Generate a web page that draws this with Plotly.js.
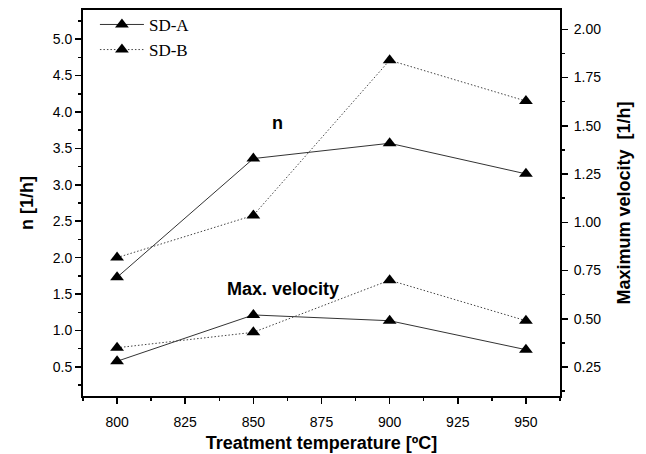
<!DOCTYPE html>
<html>
<head>
<meta charset="utf-8">
<script src="https://cdn.plot.ly/plotly-3.0.1.min.js"></script>
<style>
  html, body { margin: 0; padding: 0; background: #fff; }
  #chart { width: 646px; height: 454px; }
</style>
</head>
<body>
<div id="chart"></div>
<script>
// Treatment temperatures (°C)
const temperatures = [800, 850, 900, 950];

// n [1/h] (left axis)
const nSDA = [1.73, 3.36, 3.57, 3.15];
const nSDB = [2.00, 2.58, 4.71, 4.15];

// Maximum velocity [1/h] (right axis)
const velSDA = [0.28, 0.52, 0.49, 0.34];
const velSDB = [0.35, 0.43, 0.70, 0.49];

const seriesNames = ['SD-A', 'SD-B'];

const sans = 'Liberation Sans, Arial, sans-serif';
const serif = 'Liberation Serif, Times New Roman, serif';

const lineA = { color: '#333', width: 1, dash: 'solid' };
const lineB = { color: '#444', width: 1, dash: '1.5px,2px' };
const marker = { symbol: 'triangle-up', size: 12, color: '#000' };

const traces = [
  { x: temperatures, y: nSDA, name: seriesNames[0], yaxis: 'y', legendgroup: 'A',
    mode: 'lines+markers', line: lineA, marker: marker },
  { x: temperatures, y: nSDB, name: seriesNames[1], yaxis: 'y', legendgroup: 'B',
    mode: 'lines+markers', line: lineB, marker: marker },
  { x: temperatures, y: velSDA, name: seriesNames[0], yaxis: 'y2', legendgroup: 'A', showlegend: false,
    mode: 'lines+markers', line: lineA, marker: marker },
  { x: temperatures, y: velSDB, name: seriesNames[1], yaxis: 'y2', legendgroup: 'B', showlegend: false,
    mode: 'lines+markers', line: lineB, marker: marker }
];

const tickFont = { family: sans, size: 14, color: '#000' };
const titleFont = { family: sans, size: 18, color: '#000', weight: 'bold' };
const noteFont = { family: sans, size: 18, color: '#000', weight: 'bold' };

const layout = {
  width: 646, height: 454,
  margin: { l: 83, r: 86, t: 10, b: 58, autoexpand: false },
  paper_bgcolor: '#fff', plot_bgcolor: '#fff',
  showlegend: true,
  legend: {
    x: 0.025, y: 1.008, xanchor: 'left', yanchor: 'top',
    bgcolor: 'rgba(0,0,0,0)', font: { family: serif, size: 17, color: '#000' },
    traceorder: 'grouped', tracegroupgap: 0, itemwidth: 44
  },
  xaxis: {
    range: [787.5, 962.5], dtick: 25, tick0: 800,
    showgrid: false, zeroline: false,
    showline: true, linecolor: '#000', linewidth: 2, mirror: true,
    ticks: 'outside', ticklen: 6, tickwidth: 1.5, tickcolor: '#000',
    minor: { dtick: 12.5, tick0: 800, ticks: 'outside', ticklen: 3, tickwidth: 1.5, tickcolor: '#000', showgrid: false },
    tickfont: tickFont, ticklabelstandoff: 6,
    title: { text: 'Treatment temperature [ºC]', font: titleFont, standoff: 8 }
  },
  yaxis: {
    range: [0.1, 5.4], dtick: 0.5, tick0: 0.5, tickformat: '.1f',
    showgrid: false, zeroline: false,
    showline: true, linecolor: '#000', linewidth: 2,
    ticks: 'outside', ticklen: 6, tickwidth: 1.5, tickcolor: '#000',
    minor: { dtick: 0.25, tick0: 0.25, ticks: 'outside', ticklen: 3, tickwidth: 1.5, tickcolor: '#000', showgrid: false },
    tickfont: tickFont,
    title: { text: 'n [1/h]', font: titleFont, standoff: 14 }
  },
  yaxis2: {
    overlaying: 'y', side: 'right',
    range: [0.1, 2.1], dtick: 0.25, tick0: 0.25, tickformat: '.2f',
    showgrid: false, zeroline: false,
    showline: true, linecolor: '#000', linewidth: 2,
    ticks: 'outside', ticklen: 6, tickwidth: 1.5, tickcolor: '#000',
    minor: { dtick: 0.125, tick0: 0.125, ticks: 'outside', ticklen: 3, tickwidth: 1.5, tickcolor: '#000', showgrid: false },
    tickfont: tickFont, ticklabelstandoff: 3,
    title: { text: 'Maximum velocity&nbsp; [1/h]', font: titleFont, standoff: 17 }
  },
  annotations: [
    { x: 859, y: 3.85, xref: 'x', yref: 'y', text: 'n', showarrow: false, font: noteFont },
    { x: 861, y: 1.57, xref: 'x', yref: 'y', text: 'Max. velocity', showarrow: false, font: noteFont }
  ]
};

Plotly.newPlot('chart', traces, layout, { displayModeBar: false, staticPlot: true });
</script>
</body>
</html>
